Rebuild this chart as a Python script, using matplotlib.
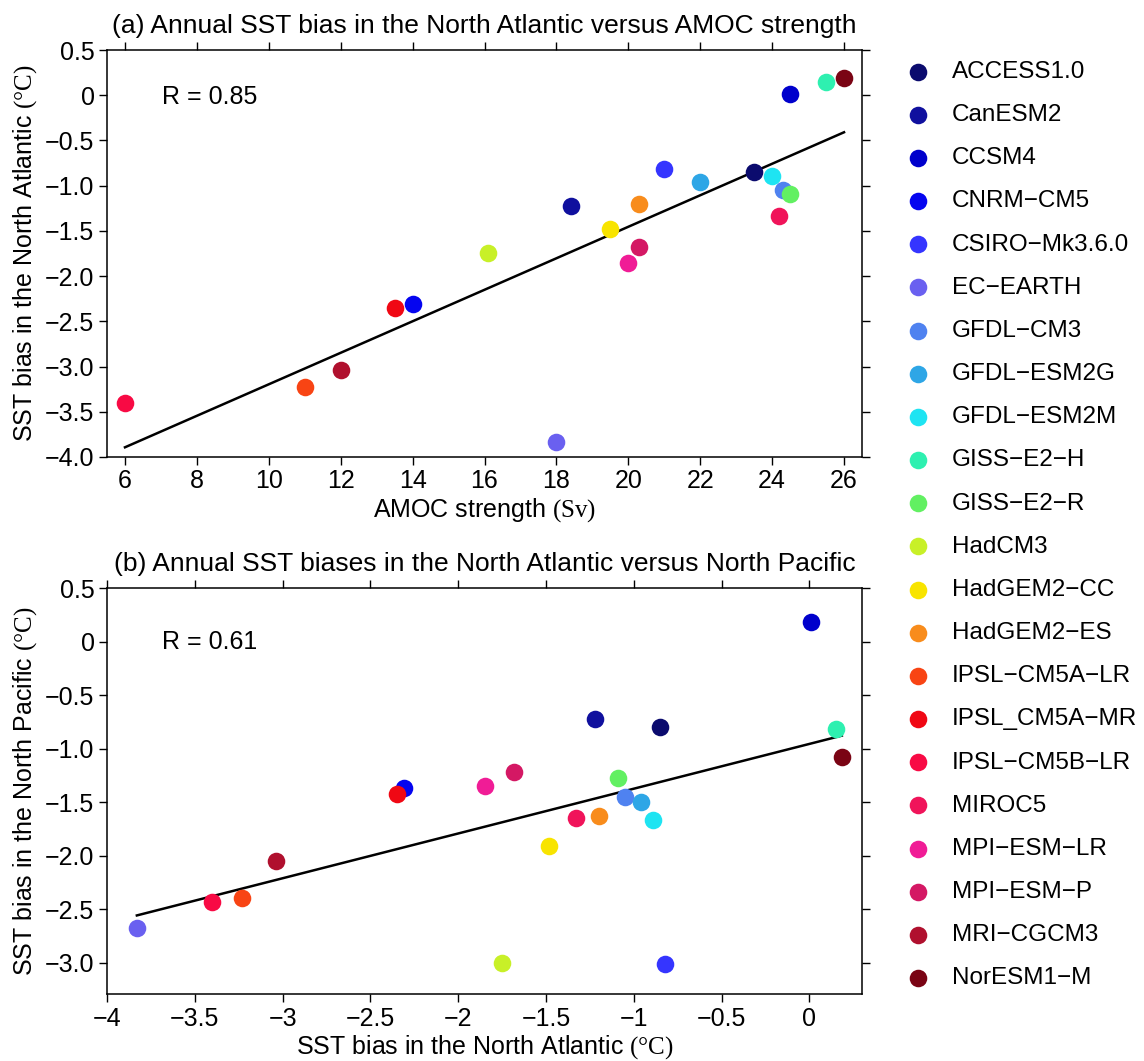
import matplotlib
matplotlib.use("Agg")
import matplotlib.pyplot as plt
import numpy as np

plt.rcParams['font.family'] = ['Liberation Sans', 'DejaVu Sans']
plt.rcParams['mathtext.fontset'] = 'custom'
plt.rcParams['mathtext.rm'] = 'Liberation Serif'

models = ["ACCESS1.0", "CanESM2", "CCSM4", "CNRM\u2212CM5", "CSIRO\u2212Mk3.6.0",
          "EC\u2212EARTH", "GFDL\u2212CM3", "GFDL\u2212ESM2G", "GFDL\u2212ESM2M",
          "GISS\u2212E2\u2212H", "GISS\u2212E2\u2212R", "HadCM3", "HadGEM2\u2212CC",
          "HadGEM2\u2212ES", "IPSL\u2212CM5A\u2212LR", "IPSL_CM5A\u2212MR",
          "IPSL\u2212CM5B\u2212LR", "MIROC5", "MPI\u2212ESM\u2212LR", "MPI\u2212ESM\u2212P",
          "MRI\u2212CGCM3", "NorESM1\u2212M"]

colors = ["#0b0b6e", "#10109e", "#0000cc", "#0505f0", "#3535ff",
          "#6a60f0", "#4f82f0", "#2ea6e6", "#1ee4f2",
          "#2ef0b0", "#62f062", "#c8f028", "#f8e400",
          "#f88c1c", "#f84414", "#f00814",
          "#f80a44", "#f0145a", "#f01c96", "#d41864",
          "#b0102e", "#7a0414"]

# AMOC strength (Sv)
amoc = [23.5, 18.4, 24.5, 14.0, 21.0,
        18.0, 24.3, 22.0, 24.0,
        25.5, 24.5, 16.1, 19.5,
        20.3, 11.0, 13.5,
        6.0, 24.2, 20.0, 20.3,
        12.0, 26.0]

# annual SST bias, North Atlantic (degC)
sst_na = [-0.85, -1.22, 0.01, -2.31, -0.82,
          -3.83, -1.05, -0.96, -0.89,
          0.15, -1.09, -1.75, -1.48,
          -1.20, -3.23, -2.35,
          -3.40, -1.33, -1.85, -1.68,
          -3.04, 0.185]

# annual SST bias, North Pacific (degC)
sst_np = [-0.80, -0.72, 0.18, -1.37, -3.01,
          -2.67, -1.45, -1.50, -1.67,
          -0.82, -1.27, -3.00, -1.91,
          -1.63, -2.39, -1.42,
          -2.43, -1.65, -1.35, -1.22,
          -2.05, -1.08]

r_text = ["R = 0.85", "R = 0.61"]

W, H = 1144, 1061
fig = plt.figure(figsize=(W / 100, H / 100), dpi=100)
ax1 = fig.add_axes([107 / W, 1 - 457 / H, 755 / W, 407 / H])
ax2 = fig.add_axes([107 / W, 1 - 994 / H, 755 / W, 406 / H])

fs = 18


def panel(ax, x, y, title, xlabel, ylabel, rt, ry):
    x = np.array(x)
    y = np.array(y)
    for i in range(len(models)):
        ax.scatter(x[i], y[i], s=160, color=colors[i], linewidths=0,
                   label=models[i], zorder=3)
    k, b = np.polyfit(x, y, 1)
    xx = np.array([x.min(), x.max()])
    ax.plot(xx, k * xx + b, color='black', lw=1.8, zorder=2)
    ax.set_title(title, fontsize=fs + 1, pad=12)
    ax.set_xlabel(xlabel, fontsize=fs, labelpad=2)
    ax.set_ylabel(ylabel, fontsize=fs, labelpad=4)
    ax.tick_params(direction='out', top=True, right=True, length=6,
                   width=1, labelsize=fs, pad=3)
    for sp in ax.spines.values():
        sp.set_linewidth(1.1)
    ax.text(0.073, ry, rt, transform=ax.transAxes, fontsize=fs,
            va='center', ha='left')


panel(ax1, amoc, sst_na,
      "(a) Annual SST bias in the North Atlantic versus AMOC strength",
      r"AMOC strength $\mathrm{(Sv)}$",
      r"SST bias in the North Atlantic $\mathrm{(°C)}$", r_text[0], 0.885)
ax1.set_xlim(5.5, 26.5)
ax1.set_ylim(-4.0, 0.5)
ax1.set_xticks(np.arange(6, 27, 2))
ax1.set_yticks(np.arange(-4.0, 0.51, 0.5))
ax1.set_yticklabels(["\u22124.0", "\u22123.5", "\u22123.0", "\u22122.5", "\u22122.0",
                     "\u22121.5", "\u22121.0", "\u22120.5", "0", "0.5"])

panel(ax2, sst_na, sst_np,
      "(b) Annual SST biases in the North Atlantic versus North Pacific",
      r"SST bias in the North Atlantic $\mathrm{(°C)}$",
      r"SST bias in the North Pacific $\mathrm{(°C)}$", r_text[1], 0.868)
ax2.set_xlim(-4.0, 0.3)
ax2.set_ylim(-3.29, 0.5)
ax2.set_xticks(np.arange(-4.0, 0.01, 0.5))
ax2.set_xticklabels(["\u22124", "\u22123.5", "\u22123", "\u22122.5", "\u22122",
                     "\u22121.5", "\u22121", "\u22120.5", "0"])
ax2.set_yticks(np.arange(-3.0, 0.51, 0.5))
ax2.set_yticklabels(["\u22123.0", "\u22122.5", "\u22122.0", "\u22121.5", "\u22121.0",
                     "\u22120.5", "0", "0.5"])

handles, labels = ax1.get_legend_handles_labels()
fig.legend(handles, labels, loc='upper left', bbox_to_anchor=(903 / W, 1 - 61 / H),
           frameon=False, fontsize=fs - 0.5, labelspacing=0.87, handletextpad=0.8,
           handlelength=1.2, borderaxespad=0, borderpad=0)

fig.savefig("out.png", dpi=100, facecolor='white')
